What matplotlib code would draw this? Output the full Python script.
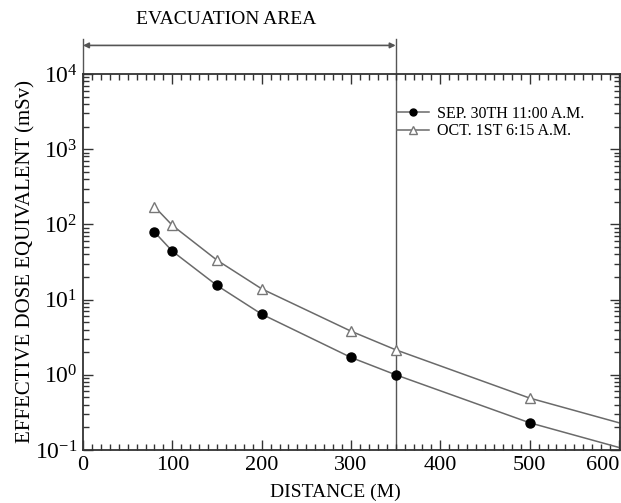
import matplotlib
matplotlib.use("Agg")
import matplotlib.pyplot as plt
from matplotlib.ticker import MultipleLocator, LogLocator, NullFormatter

plt.rcParams['font.family'] = ['Liberation Serif', 'DejaVu Serif']
plt.rcParams['mathtext.fontset'] = 'stix'

# distance (m) and dose (mSv)
distance = [80, 100, 150, 200, 300, 350, 500]
dose_sep30 = [79, 44, 15.4, 6.4, 1.7, 1.0, 0.23]
dose_oct1 = [172, 97, 33.4, 13.9, 3.8, 2.15, 0.49]
# where the curves leave the plot at the right edge
edge_x = 600
edge_sep30 = 0.108
edge_oct1 = 0.23

x_ticks = [0, 100, 200, 300, 400, 500, 600]
evac_limit = 350
label_sep30 = "SEP. 30TH 11:00 A.M."
label_oct1 = "OCT. 1ST 6:15 A.M."

fig = plt.figure(figsize=(6.21, 5.03), dpi=100)
ax = fig.add_axes([0.1337, 0.1054, 0.8645, 0.7475])

line_col = "#6a6a6a"
ax.plot(distance + [edge_x], dose_sep30 + [edge_sep30], color=line_col, lw=1.1, zorder=2)
ax.plot(distance + [edge_x], dose_oct1 + [edge_oct1], color=line_col, lw=1.1, zorder=2)
ax.plot(distance, dose_sep30, ls="none", marker="o", ms=6.5, mfc="black", mec="black", zorder=3)
ax.plot(distance, dose_oct1, ls="none", marker="^", ms=7.5, mfc="white", mec="#777777", mew=1.0, zorder=3)

h1, = ax.plot([], [], color=line_col, lw=1.1, marker="o", ms=5, mfc="black", mec="black")
h2, = ax.plot([], [], color=line_col, lw=1.1, marker="^", ms=6, mfc="white", mec="#777777")
ax.legend([h1, h2], [label_sep30, label_oct1], loc="upper left",
          bbox_to_anchor=(0.564, 0.945), frameon=False, fontsize=11.5,
          handlelength=2.0, handletextpad=0.5, labelspacing=0.1, borderpad=0.2)

ax.set_yscale("log")
ax.set_ylim(0.1, 1e4)
ax.set_xlim(0, 601)

ax.set_xticks(x_ticks)
xlabels = ax.set_xticklabels([str(v) for v in x_ticks])
xlabels[-1].set_horizontalalignment("right")
xlabels[-1].set_x(0)
ax.xaxis.set_minor_locator(MultipleLocator(10))
ax.yaxis.set_major_locator(LogLocator(base=10, numticks=10))
ax.yaxis.set_minor_locator(LogLocator(base=10, subs=range(2, 10), numticks=20))
ax.yaxis.set_minor_formatter(NullFormatter())
ax.tick_params(which="both", direction="in", top=True, right=True, width=1.0, color="#333333")
ax.tick_params(which="major", length=7, pad=4)
ax.tick_params(axis="x", which="major", labelsize=16)
ax.tick_params(axis="y", which="major", labelsize=17)
ax.tick_params(which="minor", length=4)
for s in ax.spines.values():
    s.set_linewidth(1.3)
    s.set_color("#333333")

ax.set_xlabel("DISTANCE (M)", fontsize=14, labelpad=6)
ax.xaxis.set_label_coords(0.47, -0.09)
ax.set_ylabel("EFFECTIVE DOSE EQUIVALENT (mSv)", fontsize=15, labelpad=0)

# evacuation boundary and arrow above the plot
ax.axvline(evac_limit, color="#555555", lw=1.0, zorder=1)
trans = ax.get_xaxis_transform()
ax.plot([0, 0], [1.0, 1.092], transform=trans, color="#555555", lw=1.0, clip_on=False)
ax.plot([evac_limit, evac_limit], [1.0, 1.092], transform=trans, color="#555555", lw=1.0, clip_on=False)
ax.annotate("", xy=(0, 1.076), xytext=(evac_limit, 1.076), xycoords=trans, textcoords=trans,
            arrowprops=dict(arrowstyle="<|-|>", color="#555555", lw=1.2,
                            mutation_scale=8, shrinkA=0, shrinkB=0))
ax.text(evac_limit / 2 - 15, 1.145, "EVACUATION AREA", transform=trans,
        ha="center", va="center", fontsize=14)

fig.savefig("out.png", dpi=100)
